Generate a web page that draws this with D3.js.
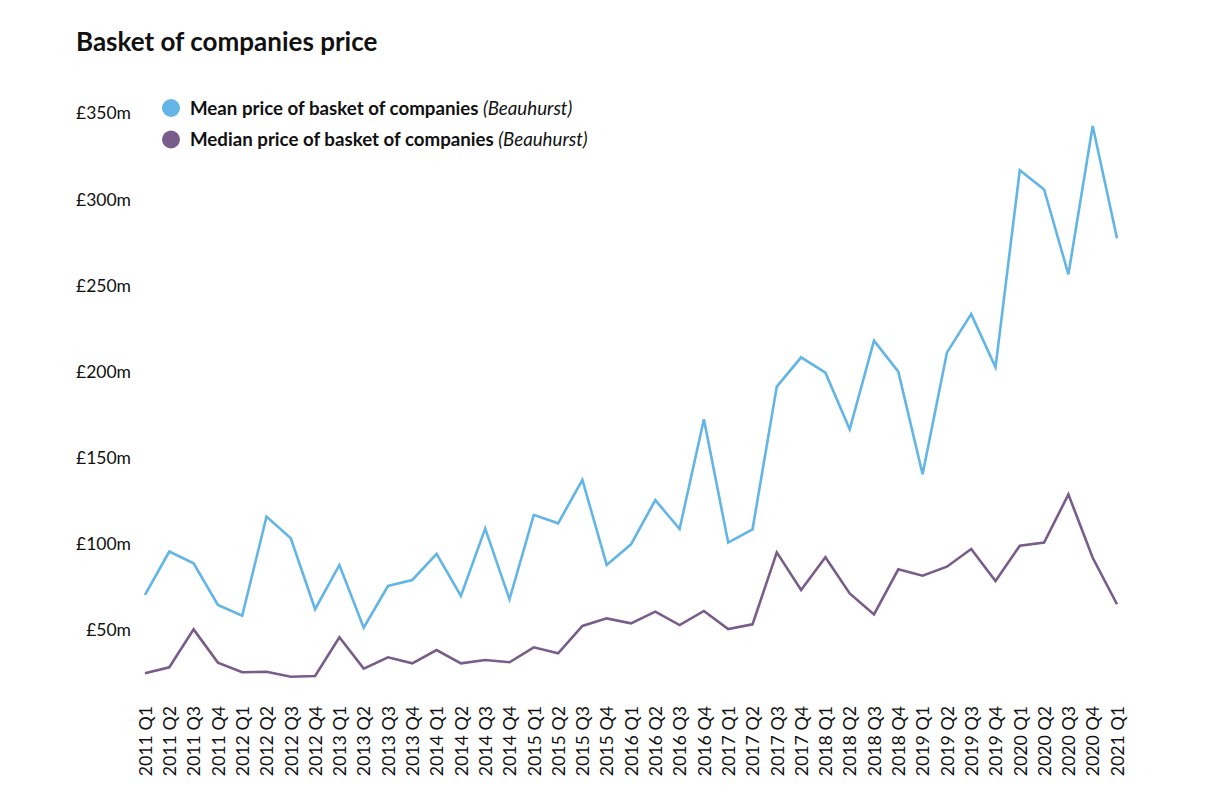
<!DOCTYPE html>
<html>
<head>
<meta charset="utf-8">
<script src="https://cdn.jsdelivr.net/npm/d3@7"></script>
<style>
  html, body { margin: 0; padding: 0; background: #fff; }
  svg { display: block; }
  text { font-family: "Source Sans Pro", "Lato", "Noto Sans", sans-serif; fill: #111; }
</style>
</head>
<body>
<svg id="chart" width="1218" height="800"></svg>
<script>
const categories = [
  "2011 Q1","2011 Q2","2011 Q3","2011 Q4",
  "2012 Q1","2012 Q2","2012 Q3","2012 Q4",
  "2013 Q1","2013 Q2","2013 Q3","2013 Q4",
  "2014 Q1","2014 Q2","2014 Q3","2014 Q4",
  "2015 Q1","2015 Q2","2015 Q3","2015 Q4",
  "2016 Q1","2016 Q2","2016 Q3","2016 Q4",
  "2017 Q1","2017 Q2","2017 Q3","2017 Q4",
  "2018 Q1","2018 Q2","2018 Q3","2018 Q4",
  "2019 Q1","2019 Q2","2019 Q3","2019 Q4",
  "2020 Q1","2020 Q2","2020 Q3","2020 Q4",
  "2021 Q1"
];
const meanValues = [
  70.3, 95.5, 88.7, 64.5,
  58.2, 115.8, 103.2, 62.0,
  87.7, 51.3, 75.5, 79.0,
  94.1, 69.7, 108.8, 67.8,
  116.8, 111.9, 137.1, 87.7,
  99.7, 125.4, 108.6, 172.3,
  100.7, 108.4, 191.3, 208.3,
  199.4, 166.5, 218.0, 200.0,
  140.4, 211.0, 233.4, 202.5,
  317.0, 305.8, 256.5, 342.6,
  277.4
];
const medianValues = [
  24.8, 28.3, 50.3, 31.0,
  25.4, 25.7, 22.8, 23.2,
  45.7, 27.5, 34.1, 30.6,
  38.3, 30.6, 32.5, 31.2,
  39.9, 36.4, 52.3, 56.7,
  53.8, 60.6, 52.8, 61.0,
  50.5, 53.2, 95.0, 73.2,
  92.2, 71.2, 59.0, 85.2,
  81.5, 86.7, 97.0, 78.4,
  98.9, 100.7, 128.7, 91.9,
  64.9
];
const yTicks = [50, 100, 150, 200, 250, 300, 350];
const seriesNames = ["Mean price of basket of companies", "Median price of basket of companies"];
const sourceLabel = "(Beauhurst)";
const titleText = "Basket of companies price";

const colors = ["#62b5e5", "#785c8a"];

const svg = d3.select("#chart");

const x = d3.scalePoint().domain(categories).range([145, 1117]);
const y = d3.scaleLinear().domain([0, 350]).range([716, 113.3]);

// Title
svg.append("text")
  .attr("x", 76).attr("y", 51)
  .attr("font-size", 26).attr("font-weight", 700)
  .text(titleText);

// faint baseline
svg.append("line")
  .attr("x1", 128).attr("x2", 1120)
  .attr("y1", 720).attr("y2", 720)
  .attr("stroke", "#e6e6e6").attr("stroke-width", 1)
  .attr("stroke-dasharray", "1,2");

// Y axis
const yAxis = svg.append("g")
  .attr("transform", "translate(131,0)")
  .call(d3.axisLeft(y).tickValues(yTicks).tickSize(0).tickPadding(0)
    .tickFormat(d => "£" + d + "m"));
yAxis.select(".domain").remove();
yAxis.selectAll("text")
  .attr("font-size", 17.5)
  .attr("font-family", "'Source Sans Pro', Lato, 'Noto Sans', sans-serif")
  .attr("fill", "#111");

// X axis
const xAxis = svg.append("g")
  .attr("transform", "translate(0,706)")
  .call(d3.axisBottom(x).tickSize(0).tickPadding(0));
xAxis.select(".domain").remove();
xAxis.selectAll("text")
  .attr("font-size", 17.8)
  .attr("font-family", "'Source Sans Pro', Lato, 'Noto Sans', sans-serif")
  .attr("fill", "#111")
  .attr("text-anchor", "end")
  .attr("transform", "rotate(-90)")
  .attr("x", 0).attr("y", 0).attr("dy", "0.35em");

// Lines
const line = d3.line()
  .x((d, i) => x(categories[i]))
  .y(d => y(d));

[meanValues, medianValues].forEach((vals, k) => {
  svg.append("path")
    .datum(vals)
    .attr("d", line)
    .attr("fill", "none")
    .attr("stroke", colors[k])
    .attr("stroke-width", 2.6)
    .attr("stroke-linejoin", "miter");
});

// Legend
const legend = svg.append("g");
seriesNames.forEach((name, k) => {
  const cy = 108 + k * 31.5;
  legend.append("circle")
    .attr("cx", 171).attr("cy", cy).attr("r", 9)
    .attr("fill", colors[k]);
  const t = legend.append("text")
    .attr("x", 190).attr("y", cy).attr("dy", "0.35em")
    .attr("font-size", 18.7);
  t.append("tspan").attr("font-weight", 700).text(name + " ");
  t.append("tspan").attr("font-style", "italic").text(sourceLabel);
});
</script>
</body>
</html>
